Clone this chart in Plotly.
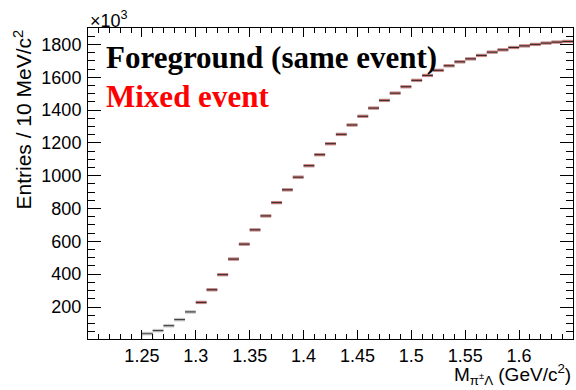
import plotly.graph_objects as go

# Invariant-mass histogram: 10 MeV/c^2 bins, counts in units of 10^3
bin_low = [1.25, 1.26, 1.27, 1.28, 1.29, 1.30, 1.31, 1.32, 1.33, 1.34,
           1.35, 1.36, 1.37, 1.38, 1.39, 1.40, 1.41, 1.42, 1.43, 1.44,
           1.45, 1.46, 1.47, 1.48, 1.49, 1.50, 1.51, 1.52, 1.53, 1.54,
           1.55, 1.56, 1.57, 1.58, 1.59, 1.60, 1.61, 1.62, 1.63, 1.64]
bin_width = 0.01

foreground = [38, 56, 86, 123, 170, 228, 305, 397, 492, 583,
              670, 755, 836, 914, 991, 1061, 1128, 1195, 1252, 1309,
              1362, 1412, 1459, 1503, 1542, 1581, 1611, 1642, 1670, 1694,
              1712, 1733, 1753, 1767, 1781, 1791, 1800, 1808, 1814, 1818]

mixed = [None, None, None, None, None, 228, 305, 397, 492, 583,
         670, 755, 836, 914, 991, 1061, 1128, 1195, 1252, 1309,
         1362, 1412, 1459, 1503, 1542, 1581, 1611, 1642, 1670, 1694,
         1712, 1733, 1753, 1767, 1781, 1791, 1800, 1808, 1814, 1818]

x_tick_vals = [1.25, 1.30, 1.35, 1.40, 1.45, 1.50, 1.55, 1.60]
x_tick_text = ["1.25", "1.3", "1.35", "1.4", "1.45", "1.5", "1.55", "1.6"]
y_tick_vals = [200, 400, 600, 800, 1000, 1200, 1400, 1600, 1800]

x_range = [1.2, 1.65]
y_range = [5, 1900]


def segments(lows, vals):
    xs, ys = [], []
    for lo, v in zip(lows, vals):
        if v is None:
            continue
        xs += [lo, lo + bin_width, None]
        ys += [v, v, None]
    return xs, ys


fig = go.Figure()

fx, fy = segments(bin_low, foreground)
mx, my = segments(bin_low, mixed)

# statistical band of the foreground
fig.add_trace(go.Scatter(x=fx, y=fy, mode="lines",
                         line=dict(color="rgba(140,140,140,0.5)", width=3.5),
                         hoverinfo="skip", showlegend=False))
# mixed-event histogram
fig.add_trace(go.Scatter(x=mx, y=my, mode="lines",
                         line=dict(color="rgba(215,40,40,0.45)", width=3),
                         hoverinfo="skip", showlegend=False))
# foreground histogram
fig.add_trace(go.Scatter(x=fx, y=fy, mode="lines",
                         line=dict(color="rgba(20,20,20,0.85)", width=1),
                         hoverinfo="skip", showlegend=False))
# step outline of the first filled bin
fig.add_trace(go.Scatter(x=[bin_low[0], bin_low[0], bin_low[0] + bin_width, bin_low[0] + bin_width],
                         y=[y_range[0], foreground[0], foreground[0], y_range[0]],
                         mode="lines", line=dict(color="rgba(120,120,120,0.7)", width=1),
                         hoverinfo="skip", showlegend=False))

sans = "Liberation Sans, Arial, sans-serif"
serif = "Liberation Serif, Times New Roman, serif"
tick_font = dict(family=sans, size=18, color="black")

fig.update_xaxes(range=x_range, showgrid=False, zeroline=False,
                 showline=True, linecolor="black", linewidth=1, mirror="ticks",
                 ticks="inside", ticklen=9, tickwidth=1, tickcolor="black",
                 tickmode="array", tickvals=x_tick_vals, ticktext=x_tick_text,
                 tickangle=0,
                 minor=dict(ticks="inside", ticklen=5, tick0=1.2, dtick=0.01,
                            tickcolor="black", showgrid=False),
                 tickfont=tick_font)
fig.update_yaxes(range=y_range, showgrid=False, zeroline=False,
                 showline=True, linecolor="black", linewidth=1, mirror="ticks",
                 ticks="inside", ticklen=13, tickwidth=1, tickcolor="black",
                 tickmode="array", tickvals=y_tick_vals,
                 minor=dict(ticks="inside", ticklen=7, tick0=0, dtick=50,
                            tickcolor="black", showgrid=False),
                 tickfont=tick_font, ticklabelstandoff=2)

annotations = [
    dict(text="<b>Foreground (same event)</b>", xref="paper", yref="paper",
         x=0.033, y=0.904, xanchor="left", yanchor="middle", showarrow=False,
         font=dict(family=serif, size=31, color="black")),
    dict(text="<b>Mixed event</b>", xref="paper", yref="paper",
         x=0.033, y=0.781, xanchor="left", yanchor="middle", showarrow=False,
         font=dict(family=serif, size=31, color="#ff0000")),
    dict(text="×10<sup>3</sup>", xref="paper", yref="paper",
         x=0.0, y=1.0, xanchor="left", yanchor="bottom", showarrow=False,
         font=dict(family=sans, size=18, color="black"),
         yshift=-5),
    dict(text="M<sub>π<sup>±</sup>Λ</sub> (GeV/c<sup>2</sup>)", xref="paper", yref="paper",
         x=1.0, y=0, xanchor="right", yanchor="top", showarrow=False,
         font=dict(family=sans, size=19, color="black"),
         yshift=-20),
    dict(text="Entries / 10 MeV/c<sup>2</sup>", xref="paper", yref="paper",
         x=-0.135, y=1.0, xanchor="center", yanchor="top", showarrow=False, textangle=-90,
         font=dict(family=sans, size=21, color="black")),
]

fig.update_layout(width=576, height=390,
                  margin=dict(l=88, r=3, t=28, b=51),
                  paper_bgcolor="white", plot_bgcolor="white",
                  annotations=annotations, showlegend=False)

fig.write_html("out.html")
